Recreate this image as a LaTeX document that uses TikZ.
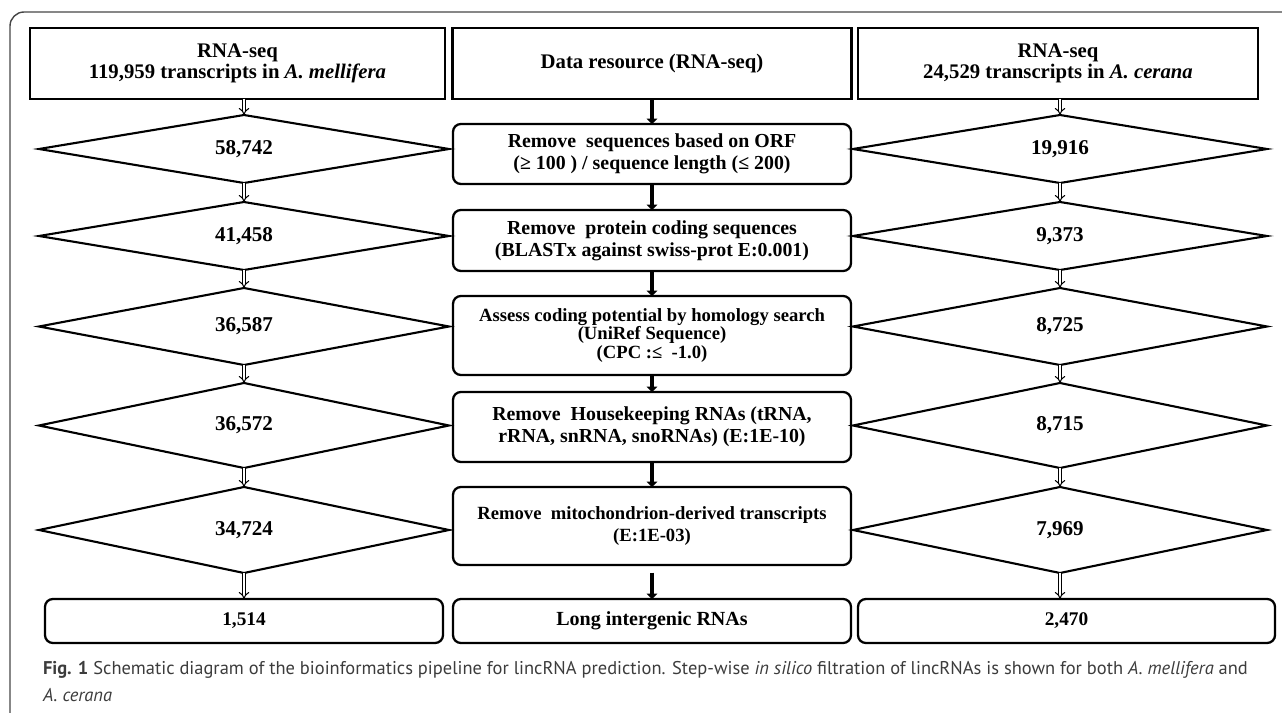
\documentclass[tikz,border=0pt]{standalone}
\usepackage{fontspec}
\setmainfont{Liberation Serif}
\newfontfamily\capfont{PT Sans}
\usetikzlibrary{shapes.geometric,arrows.meta}
\definecolor{framegray}{RGB}{70,70,70}
\definecolor{capgray}{RGB}{60,60,60}
\begin{document}
\begin{tikzpicture}[x=0.2mm,y=-0.2mm,
				every node/.style={font=\bfseries\fontsize{11.3}{12.5}\selectfont,align=center,inner sep=0pt,outer sep=0pt},
				box/.style={draw,line width=1.3pt,minimum width=7.96cm},
				topbox/.style={box,minimum height=1.42cm,font=\bfseries\fontsize{11.8}{12.3}\selectfont},
				rbox/.style={box,rounded corners=4.5pt},
				dia/.style={diamond,draw,line width=1.2pt,aspect=6,font=\bfseries\fontsize{12}{14}\selectfont},
				dbl/.style={double,double distance=1.4pt,line width=0.6pt,-{Implies}},
				thk/.style={line width=2.2pt,-{Triangle[width=6pt,length=3pt]}}]
\useasboundingbox (0,0) rectangle (1282,713);
\draw[framegray,line width=0.8pt,rounded corners=8pt] (10,713) -- (10,12) -- (1282,12);
\node[topbox,minimum width=8.3cm] (tl) at (237.5,63.5) {RNA-seq\\119,959 transcripts in \textit{A. mellifera}};
\node[topbox,minimum width=7.98cm] (tc) at (652,63.5) {Data resource (RNA-seq)};
\node[topbox,minimum width=8.0cm] (tr) at (1058,63.5) {RNA-seq\\24,529 transcripts in \textit{A. cerana}};
\node[rbox,minimum height=1.2cm] (c1) at (652,154) {Remove~ sequences based on ORF\\(≥ 100 ) / sequence length (≤ 200)};
\node[rbox,minimum height=1.22cm] (c2) at (652,240.5) {Remove~ protein coding sequences\\(BLASTx against swiss-prot E:0.001)};
\node[rbox,minimum height=1.58cm,font=\bfseries\fontsize{10.6}{10.8}\selectfont] (c3) at (652,335.5) {Assess coding potential by homology search\\(UniRef Sequence)\\(CPC :≤~ -1.0)};
\node[rbox,minimum height=1.4cm] (c4) at (652,427) {Remove~ Housekeeping RNAs (tRNA,\\rRNA, snRNA, snoRNAs) (E:1E-10)};
\node[rbox,minimum height=1.56cm,font=\bfseries\fontsize{10.6}{12.2}\selectfont] (c5) at (652,526) {Remove~ mitochondrion-derived transcripts\\(E:1E-03)};
\node[rbox,minimum height=0.88cm,font=\bfseries\fontsize{11.4}{13}\selectfont] (bc) at (652,621) {Long intergenic RNAs};
\node[dia,minimum width=8.2cm,minimum height=1.36cm] (l1) at (244,149) {58,742};
\node[dia,minimum width=8.2cm,minimum height=1.36cm] (l2) at (244,236) {41,458};
\node[dia,minimum width=8.2cm,minimum height=1.54cm] (l3) at (244,326.5) {36,587};
\node[dia,minimum width=8.2cm,minimum height=1.70cm] (l4) at (244,425.5) {36,572};
\node[dia,minimum width=8.2cm,minimum height=1.72cm] (l5) at (244,530) {34,724};
\node[dia,minimum width=8.28cm,minimum height=1.36cm] (r1) at (1060,149) {19,916};
\node[dia,minimum width=8.28cm,minimum height=1.36cm] (r2) at (1060,236) {9,373};
\node[dia,minimum width=8.28cm,minimum height=1.54cm] (r3) at (1060,326.5) {8,725};
\node[dia,minimum width=8.28cm,minimum height=1.70cm] (r4) at (1060,425.5) {8,715};
\node[dia,minimum width=8.28cm,minimum height=1.72cm] (r5) at (1060,530) {7,969};
\node[rbox,minimum height=0.88cm,font=\bfseries\fontsize{11}{13}\selectfont] (bl) at (244,621) {1,514};
\node[rbox,minimum width=8.34cm,minimum height=0.88cm,font=\bfseries\fontsize{11}{13}\selectfont] (br) at (1066.5,621) {2,470};
\draw[dbl] (tl.south -| l1.north) -- (l1.north);
\draw[dbl] (tr.south -| r1.north) -- (r1.north);
\foreach \a/\b in {l1/l2,l2/l3,l3/l4,l4/l5,r1/r2,r2/r3,r3/r4,r4/r5}
	\draw[dbl] (\a.south) -- (\b.north);
\draw[dbl] (l5.south) -- (l5.south |- bl.north);
\draw[dbl] (r5.south) -- (r5.south |- br.north);
\foreach \a/\b in {tc/c1,c1/c2,c2/c3,c3/c4,c4/c5}
	\draw[thk] (\a.south) -- (\b.north);
\draw[thk] ([yshift=-1.5mm]c5.south) -- (bc.north);
\node[anchor=north west,align=left,font=\capfont\fontsize{10.5}{15.3}\selectfont,text=capgray] (cap) at (43,661) {\textbf{Fig. 1} Schematic diagram of the bioinformatics pipeline for lincRNA prediction. Step-wise \textit{in silico} filtration of lincRNAs is shown for both \textit{A. mellifera} and\\\textit{A. cerana}};
\end{tikzpicture}
\end{document}
